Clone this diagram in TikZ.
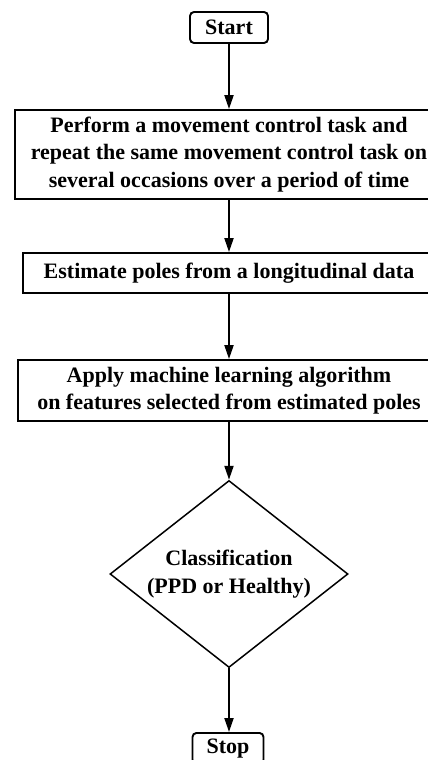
\documentclass[tikz,border=0pt]{standalone}
\usepackage{fontspec}
\setmainfont{Liberation Serif}
\usetikzlibrary{shapes.geometric,arrows.meta}
\tikzset{
  txt/.style={font=\fontsize{22}{27.5}\selectfont\bfseries, align=center, text=black},
  procbox/.style={draw, line width=1.9pt, rectangle, inner sep=0pt, txt},
  termbox/.style={procbox, rounded corners=4pt},
  decbox/.style={draw, line width=1.5pt, diamond, inner sep=0pt},
  flow/.style={line width=2pt, -{Triangle[length=14pt,width=9pt]}}
}
\begin{document}
\begin{tikzpicture}[x=1pt,y=-1pt]
\useasboundingbox (0,0) rectangle (428,760);
\clip (0,0) rectangle (428,760);
\node[termbox, minimum width=78, minimum height=31] (start) at (229,27.5) {Start};
\node[procbox, minimum width=428, minimum height=89] (b1) at (229,154.5) {Perform a movement control task and\\repeat the same movement control task on\\several occasions over a period of time};
\node[procbox, minimum width=412, minimum height=40] (b2) at (229,273) {Estimate poles from a longitudinal data};
\node[procbox, minimum width=422, minimum height=61] (b3) at (229,390.5) {Apply machine learning algorithm\\on features selected from estimated poles};
\node[decbox, minimum width=238, minimum height=187] (dec) at (229,574) {};
\node[txt] (dectext) at (dec.center) {Classification\\(PPD or Healthy)};
\node[termbox, minimum width=71, minimum height=31, anchor=north] (stop) at (228,732) {Stop};
\draw[flow] (start.south -| 229,0) -- (b1.north -| 229,0);
\draw[flow] (b1.south -| 229,0) -- (b2.north -| 229,0);
\draw[flow] (b2.south -| 229,0) -- (b3.north -| 229,0);
\draw[flow] (b3.south -| 229,0) -- (dec.north);
\draw[flow] (dec.south) -- (stop.north -| 229,0);
\end{tikzpicture}
\end{document}
